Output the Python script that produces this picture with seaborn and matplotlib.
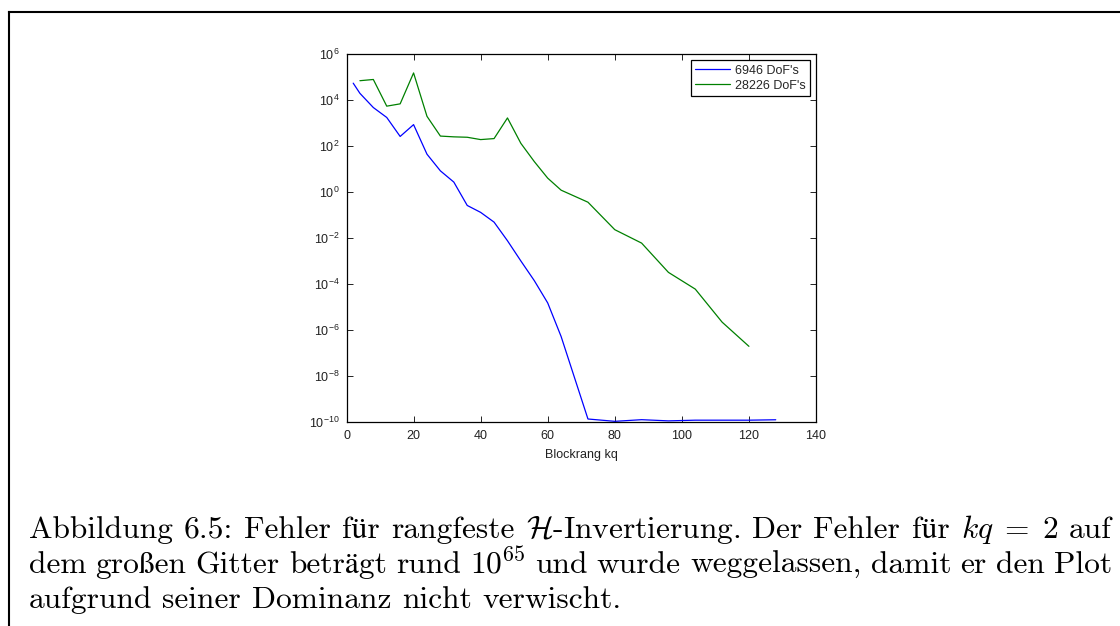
import numpy as np
import pandas as pd
import matplotlib
matplotlib.use("Agg")
import matplotlib.pyplot as plt
import seaborn as sns
from matplotlib.lines import Line2D
from matplotlib.ticker import FixedLocator, FuncFormatter, NullLocator

# ---------------- data ----------------
kq_small = [2, 4, 8, 12, 16, 20, 24, 28, 32, 36, 40, 44, 48, 52, 56, 60, 64,
            72, 80, 88, 96, 104, 112, 120, 128]
err_small = [5.4e4, 1.95e4, 4.7e3, 1.74e3, 2.6e2, 8.5e2, 44, 8.3, 2.7, 0.26,
             0.13, 0.049, 7.6e-3, 1.0e-3, 1.4e-4, 1.5e-5, 5.2e-7,
             1.35e-10, 1.07e-10, 1.26e-10, 1.12e-10, 1.2e-10, 1.2e-10,
             1.2e-10, 1.25e-10]

kq_large = [4, 8, 12, 16, 20, 24, 28, 32, 36, 40, 44, 48, 52, 56, 60, 64,
            72, 80, 88, 96, 104, 112, 120]
err_large = [6.9e4, 7.8e4, 5.4e3, 6.8e3, 1.5e5, 1.95e3, 2.7e2, 2.5e2, 2.4e2,
             1.9e2, 2.1e2, 1.66e3, 1.3e2, 21, 4.0, 1.2,
             0.36, 0.023, 6.0e-3, 3.2e-4, 6.0e-5, 2.2e-6, 1.95e-7]

series_labels = ["6946 DoF's", "28226 DoF's"]
series_colors = ["#0000ff", "#008000"]
x_ticks = [0, 20, 40, 60, 80, 100, 120, 140]
y_exponents = [-10, -8, -6, -4, -2, 0, 2, 4, 6]
x_label = "Blockrang kq"
caption_lines = [
    ["Abbildung", "6.5:", "Fehler", "für", "rangfeste", r"$\mathcal{H}$-Invertierung.",
     "Der", "Fehler", "für", r"$kq\;=\;2$", "auf"],
    ["dem", "großen", "Gitter", "beträgt", "rund", r"$10^{65}$", "und", "wurde",
     "weggelassen,", "damit", "er", "den", "Plot"],
    ["aufgrund", "seiner", "Dominanz", "nicht", "verwischt."],
]

# ---------------- figure ----------------
sns.set_theme(style="ticks")
plt.rcParams["font.family"] = ["Liberation Sans", "DejaVu Sans"]

W, H = 1120, 626
fig = plt.figure(figsize=(W / 100, H / 100), dpi=100)
fig.patch.set_facecolor("white")

ax_l, ax_r, ax_t, ax_b = 346.5, 816.0, 54.0, 422.0
ax = fig.add_axes([ax_l / W, 1 - ax_b / H, (ax_r - ax_l) / W, (ax_b - ax_t) / H])
ax.set_facecolor("white")

df = pd.concat([
    pd.DataFrame({"kq": kq_small, "err": err_small, "series": series_labels[0]}),
    pd.DataFrame({"kq": kq_large, "err": err_large, "series": series_labels[1]}),
], ignore_index=True)

sns.lineplot(data=df, x="kq", y="err", hue="series", hue_order=series_labels,
             palette=series_colors, linewidth=0.9, estimator=None, ax=ax)

ax.set_yscale("log")
ax.set_xlim(0, 140)
ax.set_ylim(1e-10, 1e6)
ax.xaxis.set_major_locator(FixedLocator(x_ticks))
ax.xaxis.set_minor_locator(NullLocator())
ax.yaxis.set_major_locator(FixedLocator([10.0 ** e for e in y_exponents]))
ax.yaxis.set_minor_locator(NullLocator())
ax.yaxis.set_major_formatter(
    FuncFormatter(lambda v, p: r"$\mathregular{10^{%d}}$" % int(round(np.log10(v)))))
ax.tick_params(direction="in", top=True, right=True, length=4, width=0.6,
               labelsize=9, color="black", labelcolor="#222222")
ax.tick_params(axis="y", pad=5)
ax.tick_params(axis="x", pad=6)
for s in ax.spines.values():
    s.set_visible(True)
    s.set_linewidth(0.9)
    s.set_color("black")
ax.grid(False)
ax.set_xlabel(x_label, fontsize=9, labelpad=5, color="#222222")
ax.set_ylabel("")

handles, labels = ax.get_legend_handles_labels()
leg = ax.legend(handles, labels, loc="upper right", fontsize=9, frameon=True,
                fancybox=False, edgecolor="black", framealpha=1,
                handlelength=2.75, handletextpad=0.4, labelspacing=0.25,
                borderpad=0.35, borderaxespad=0.5)
leg.get_frame().set_linewidth(0.9)

# ---------------- page frame ----------------
fx, fy = 9.0, 12.0
fig.add_artist(Line2D([fx / W, fx / W], [0, 1 - fy / H], transform=fig.transFigure,
                      color="black", linewidth=1.5, solid_capstyle="projecting"))
fig.add_artist(Line2D([fx / W, 1.0], [1 - fy / H, 1 - fy / H], transform=fig.transFigure,
                      color="black", linewidth=1.5, solid_capstyle="projecting"))

# ---------------- caption ----------------
cap_kw = dict(family=["cmr10", "STIXGeneral"], math_fontfamily="cm",
              color="black", va="baseline", ha="left")
x0, x1 = 28.5, 1112.0
baselines = [538.0, 573.0, 608.0]
space_em = 0.36

fig.canvas.draw()
renderer = fig.canvas.get_renderer()


def make_words(words, fs):
    ts = [fig.text(0, 0, w, fontsize=fs, **cap_kw) for w in words]
    ws = [t.get_window_extent(renderer).width for t in ts]
    return ts, ws


# fit font size so that the first line at natural spacing fills the text width
fs0 = 20.0
ts, ws = make_words(caption_lines[0], fs0)
for t in ts:
    t.remove()
nat = sum(ws) + (len(ws) - 1) * space_em * fs0 * 100 / 72
fs = fs0 * (x1 - x0) / nat

for i, words in enumerate(caption_lines):
    ts, ws = make_words(words, fs)
    if i < 2:
        gap = (x1 - x0 - sum(ws)) / (len(ws) - 1)
    else:
        gap = 0.333 * fs * 100 / 72
    x = x0
    yb = 1 - baselines[i] / H
    for t, w in zip(ts, ws):
        t.set_position((x / W, yb))
        x += w + gap

fig.savefig("out.png", dpi=100, facecolor="white")
